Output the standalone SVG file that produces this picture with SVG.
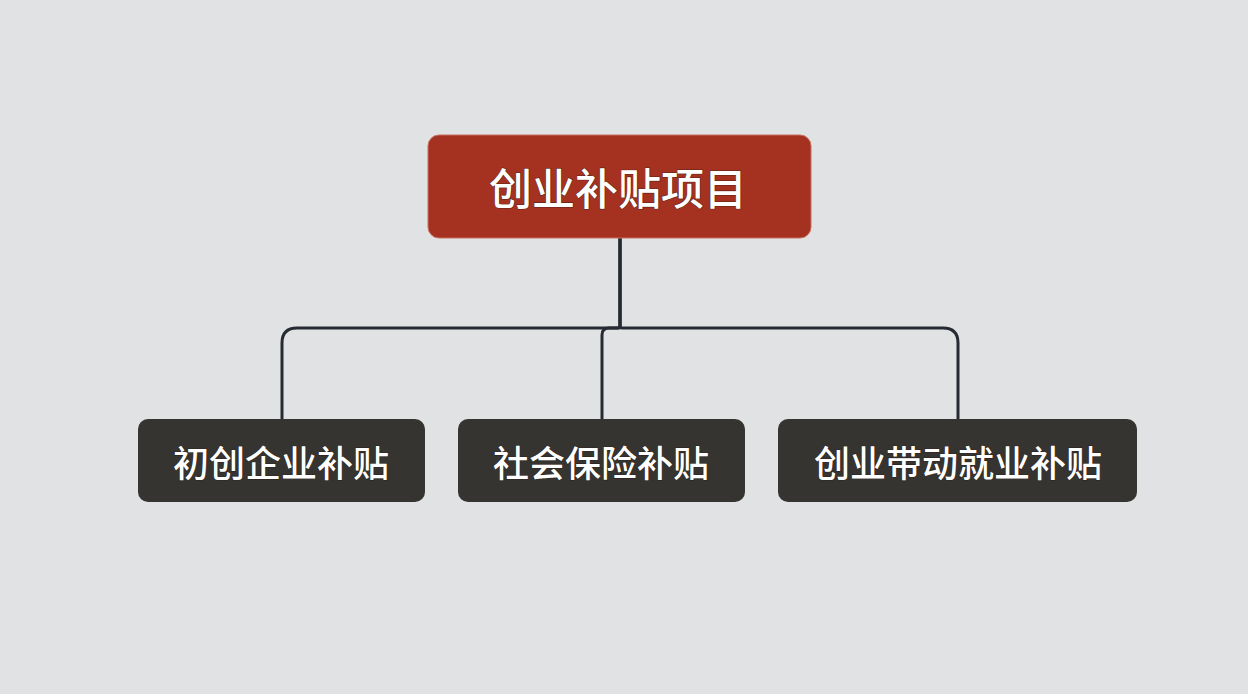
<svg xmlns="http://www.w3.org/2000/svg" width="1248" height="694" viewBox="0 0 1248 694">
<style>
.bg{fill:#e1e2e4}
.root{fill:#a53121;stroke:#c8705f;stroke-width:1}
.child{fill:#363430}
.lbl{fill:#ffffff;font-family:"Noto Sans CJK SC","Noto Sans",sans-serif;font-weight:500;text-anchor:middle;dominant-baseline:central;paint-order:stroke;stroke:#2a1a14;stroke-width:1.2;stroke-opacity:0.6}
.conn{fill:none;stroke:#262b33;stroke-width:3;stroke-linejoin:round}
</style>
<rect class="bg" x="0" y="0" width="1248" height="694"/>
<g id="connectors">
<path class="conn" d="M620 238 V326 Q620 328 618 328 H297 Q282 328 282 343 V419"/>
<path class="conn" d="M620 238 V326 Q620 328 622 328 H943 Q958 328 958 343 V419"/>
<path class="conn" d="M620 238 V326 Q620 328 618 328 H609 Q602 328 602 335 V419"/>
</g>
<g id="root">
<rect class="root" x="428" y="135" width="383" height="103" rx="11"/>
<text class="lbl" x="618" y="186" font-size="43">创业补贴项目</text>
</g>
<g id="child1">
<rect class="child" x="138" y="419" width="287" height="83" rx="10"/>
<text class="lbl" x="281" y="461" font-size="36">初创企业补贴</text>
</g>
<g id="child2">
<rect class="child" x="458" y="419" width="287" height="83" rx="10"/>
<text class="lbl" x="601" y="461" font-size="36">社会保险补贴</text>
</g>
<g id="child3">
<rect class="child" x="778" y="419" width="359" height="83" rx="10"/>
<text class="lbl" x="958" y="461" font-size="36">创业带动就业补贴</text>
</g>
</svg>
